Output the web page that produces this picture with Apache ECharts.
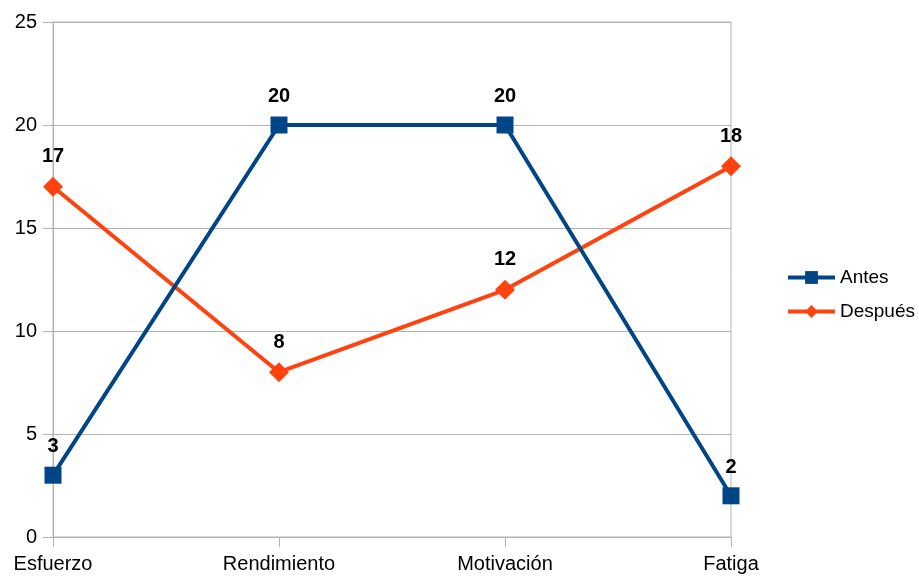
<!DOCTYPE html>
<html>
<head>
<meta charset="utf-8">
<script src="https://cdn.jsdelivr.net/npm/echarts@6/dist/echarts.min.js"></script>
<style>html,body{margin:0;padding:0;background:#fff;}#c{width:919px;height:580px;}</style>
</head>
<body>
<div id="c"></div>
<script>
const categories = ['Esfuerzo', 'Rendimiento', 'Motivación', 'Fatiga'];
const antes = [3, 20, 20, 2];
const despues = [17, 8, 12, 18];
const seriesNames = ['Antes', 'Después'];

const FONT = '"Liberation Sans", Arial, sans-serif';
const chart = echarts.init(document.getElementById('c'));
const labelCfg = {
  show: true, position: 'top', distance: 10,
  color: '#000', fontFamily: FONT, fontSize: 20, fontWeight: 'bold'
};
chart.setOption({
  animation: false,
  textStyle: { fontFamily: FONT },
  grid: { left: 53, right: 188, top: 22, bottom: 43, show: true, borderColor: '#b3b3b3', borderWidth: 1 },
  legend: {
    orient: 'vertical', left: 786, top: 268, padding: 0,
    itemWidth: 47, itemHeight: 16, itemGap: 15,
    lineStyle: { width: 4 },
    textStyle: { fontFamily: FONT, fontSize: 19, color: '#000' },
    data: seriesNames
  },
  xAxis: {
    type: 'category', data: categories, boundaryGap: false,
    axisLine: { lineStyle: { color: '#b3b3b3', width: 1 } },
    axisTick: { show: true, length: 10, lineStyle: { color: '#b3b3b3' } },
    axisLabel: { color: '#000', fontFamily: FONT, fontSize: 20, margin: 17 },
    splitLine: { show: false }
  },
  yAxis: {
    type: 'value', min: 0, max: 25, interval: 5,
    axisLine: { show: true, lineStyle: { color: '#b3b3b3', width: 1 } },
    axisTick: { show: true, length: 10, lineStyle: { color: '#b3b3b3' } },
    axisLabel: { color: '#000', fontFamily: FONT, fontSize: 20, margin: 16 },
    splitLine: { show: true, lineStyle: { color: '#b3b3b3', width: 1 } }
  },
  series: [
    {
      name: seriesNames[0], type: 'line', data: antes,
      symbol: 'rect', symbolSize: 17,
      lineStyle: { color: '#004586', width: 4 },
      itemStyle: { color: '#004586' },
      label: labelCfg, z: 3
    },
    {
      name: seriesNames[1], type: 'line', data: despues,
      symbol: 'diamond', symbolSize: 20,
      lineStyle: { color: '#ff420e', width: 4 },
      itemStyle: { color: '#ff420e' },
      label: labelCfg, z: 2
    }
  ]
});
</script>
</body>
</html>
